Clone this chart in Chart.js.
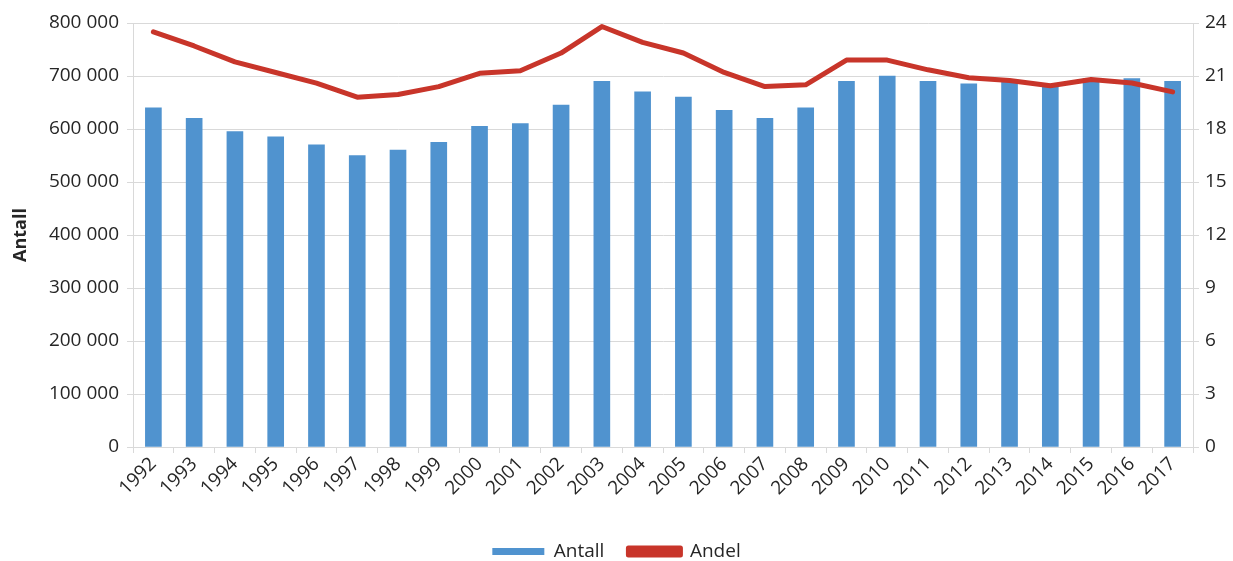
<!DOCTYPE html>
<html>
<head>
<meta charset="utf-8">
<script src="https://cdn.jsdelivr.net/npm/chart.js@4/dist/chart.umd.min.js"></script>
<style>
html,body{margin:0;padding:0;background:#fff;}
#wrap{width:1233px;height:561px;position:relative;}
</style>
</head>
<body>
<div id="wrap"><canvas id="c" width="1233" height="561"></canvas></div>
<script>
const years = ["1992","1993","1994","1995","1996","1997","1998","1999","2000","2001","2002","2003","2004","2005","2006","2007","2008","2009","2010","2011","2012","2013","2014","2015","2016","2017"];
const antall = [640000,620000,595000,585000,570000,550000,560000,575000,605000,610000,645000,690000,670000,660000,635000,620000,640000,690000,700000,690000,685000,690000,680000,695000,695000,690000];
const andel = [23.5,22.7,21.8,21.2,20.6,19.8,19.95,20.4,21.15,21.3,22.3,23.8,22.9,22.3,21.2,20.4,20.5,21.9,21.9,21.35,20.9,20.75,20.45,20.8,20.6,20.1];
const leftTicks = [0,100000,200000,300000,400000,500000,600000,700000,800000];
const rightTicks = [0,3,6,9,12,15,18,21,24];

const FONT = "'Open Sans', 'DejaVu Sans', sans-serif";
const TXT = '#262626';
const GRID = '#d9d9d9';
const FS = 19;

function fmt(v){ return String(v).replace(/\B(?=(\d{3})+(?!\d))/g, ' '); }

const legendShift = {
  id: 'legendShift',
  afterInit(chart) {
    const lg = chart.legend;
    if (!lg) return;
    const orig = lg.fit.bind(lg);
    lg.fit = function() { orig(); this.height -= 10; };
  }
};

new Chart(document.getElementById('c'), {
  plugins: [legendShift],
  data: {
    labels: years,
    datasets: [
      {
        type: 'line', label: 'Andel', data: andel, yAxisID: 'y2',
        borderColor: '#c8352a', backgroundColor: '#c8352a',
        borderWidth: 5, pointRadius: 0, tension: 0, order: 0,
        borderCapStyle: 'round', borderJoinStyle: 'round'
      },
      {
        type: 'bar', label: 'Antall', data: antall, yAxisID: 'y',
        backgroundColor: '#5093cf', borderWidth: 0,
        barThickness: 16, order: 1
      }
    ]
  },
  options: {
    responsive: false, animation: false,
    layout: { padding: { top: 23, left: 0, right: 0, bottom: 0 } },
    plugins: {
      legend: {
        position: 'bottom', reverse: true,
        labels: {
          font: { family: FONT, size: FS }, color: TXT,
          boxWidth: 52, boxHeight: 7, padding: 24
        }
      },
      tooltip: { enabled: false }
    },
    scales: {
      x: {
        offset: true,
        afterFit: s => { s.height = 71; },
        grid: { display: true, drawOnChartArea: false, offset: true, color: GRID, tickLength: 6 },
        border: { color: GRID },
        ticks: { font: { family: FONT, size: FS }, color: TXT, maxRotation: 45, minRotation: 45, padding: 0, autoSkip: false }
      },
      y: {
        position: 'left', min: 0, max: 800000,
        afterBuildTicks: s => { s.ticks = leftTicks.map(v => ({ value: v })); },
        afterFit: s => { s.width = 133; },
        grid: { color: GRID, tickLength: 6 },
        border: { color: GRID },
        title: { display: true, text: 'Antall', font: { family: FONT, size: 18, weight: 'bold' }, color: TXT, padding: { top: 10, bottom: 0 } },
        ticks: { font: { family: FONT, size: FS }, color: TXT, padding: 8, callback: v => fmt(v) }
      },
      y2: {
        position: 'right', min: 0, max: 24,
        afterBuildTicks: s => { s.ticks = rightTicks.map(v => ({ value: v })); },
        afterFit: s => { s.width = 40; },
        grid: { drawOnChartArea: false, color: GRID, tickLength: 6 },
        border: { color: GRID },
        ticks: { font: { family: FONT, size: FS }, color: TXT, padding: 6 }
      }
    }
  }
});
</script>
</body>
</html>
